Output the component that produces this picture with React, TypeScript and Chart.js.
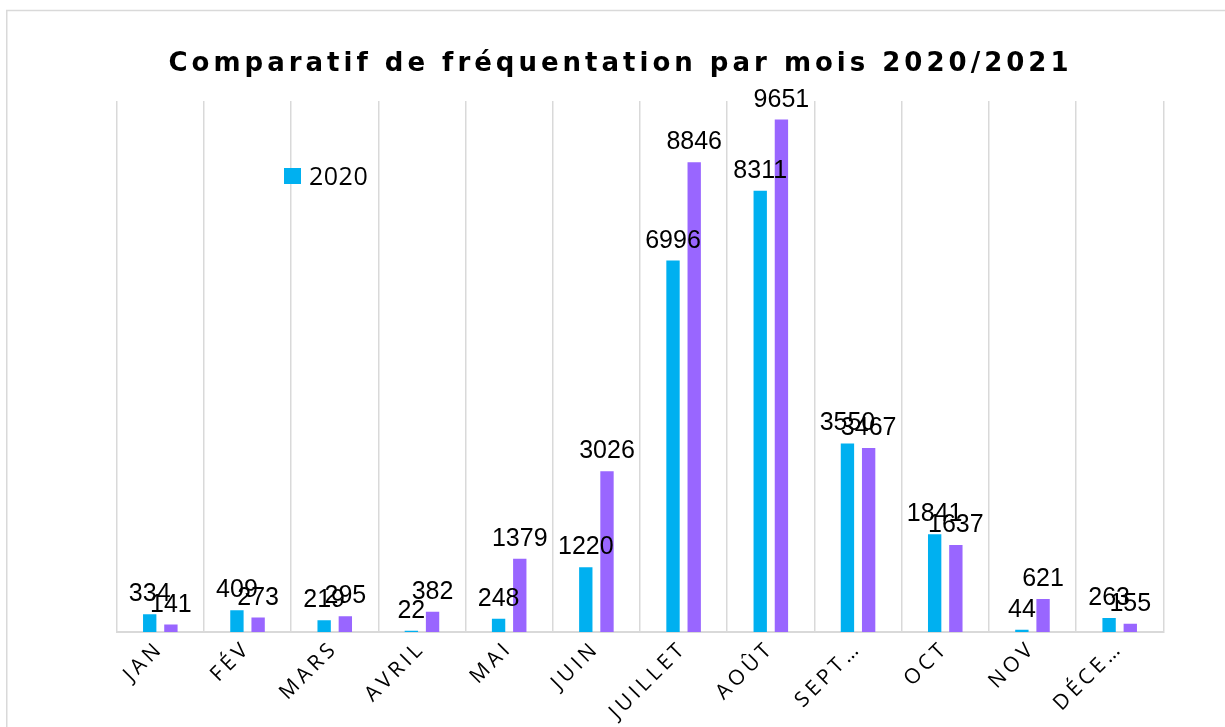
import React, { useEffect, useRef } from "react";
import { Chart, registerables } from "chart.js";

Chart.register(...registerables);

const months = ["JAN", "FÉV", "MARS", "AVRIL", "MAI", "JUIN", "JUILLET", "AOÛT", "SEPT…", "OCT", "NOV", "DÉCE…"];
const visits2020 = [334, 409, 219, 22, 248, 1220, 6996, 8311, 3550, 1841, 44, 263];
const visits2021 = [141, 273, 295, 382, 1379, 3026, 8846, 9651, 3467, 1637, 621, 155];
const seriesNames = ["2020", "2021"];
const yMax = 10000;
const chartTitle = "Comparatif de fréquentation par mois 2020/2021";

const COLOR_2020 = "#00B0F0";
const COLOR_2021 = "#9966FF";
const GRID = "#d9d9d9";
const UI_FONT = '"Open Sans", "Noto Sans", sans-serif';
const TITLE_FONT = '"DejaVu Sans", "Open Sans", sans-serif';
const TICK_SPACING = "4px";

const decorPlugin = {
  id: "decor",
  beforeUpdate(chart: any) {
    chart.ctx.letterSpacing = TICK_SPACING;
  },
  beforeDraw(chart: any) {
    const ctx = chart.ctx;
    ctx.save();
    ctx.strokeStyle = GRID;
    ctx.lineWidth = 1.5;
    ctx.strokeRect(6.75, 10.5, 1400, 900);
    ctx.restore();
    ctx.letterSpacing = TICK_SPACING;
  },
  afterDatasetsDraw(chart: any) {
    const ctx = chart.ctx;
    ctx.save();
    ctx.letterSpacing = "0px";
    ctx.font = '25px "Liberation Sans", Arial, sans-serif';
    ctx.fillStyle = "#000";
    ctx.textAlign = "center";
    ctx.textBaseline = "alphabetic";
    chart.data.datasets.forEach((ds: any, di: number) => {
      const meta = chart.getDatasetMeta(di);
      meta.data.forEach((bar: any, i: number) => {
        ctx.fillText(String(ds.data[i]), bar.x, bar.y - 13);
      });
    });
    ctx.restore();
  },
  afterDraw(chart: any) {
    const ctx = chart.ctx;
    // title
    ctx.save();
    ctx.font = "bold 26px " + TITLE_FONT;
    ctx.fillStyle = "#000";
    ctx.textBaseline = "alphabetic";
    ctx.textAlign = "left";
    ctx.letterSpacing = "0px";
    const w0 = ctx.measureText(chartTitle).width;
    const targetW = 900;
    const n = chartTitle.length;
    const ls = Math.max(0, (targetW - w0) / (n - 1));
    ctx.letterSpacing = ls + "px";
    const cx = 618.5;
    ctx.fillText(chartTitle, cx - targetW / 2, 71);
    ctx.restore();

    // legend (only first series shown, as in reference)
    ctx.save();
    ctx.letterSpacing = "0.5px";
    ctx.fillStyle = COLOR_2020;
    ctx.fillRect(284, 168, 17, 16);
    ctx.fillStyle = "#000";
    ctx.font = "25px " + UI_FONT;
    ctx.textAlign = "left";
    ctx.textBaseline = "alphabetic";
    ctx.fillText(seriesNames[0], 309, 185);
    ctx.restore();
  },
};

export default function App() {
  const canvasRef = useRef<HTMLCanvasElement | null>(null);

  useEffect(() => {
    const canvas = canvasRef.current;
    if (!canvas) return;
    const chart = new Chart(canvas, {
      type: "bar",
      data: {
        labels: months,
        datasets: [
          {
            label: seriesNames[0],
            data: visits2020,
            backgroundColor: COLOR_2020,
            categoryPercentage: 0.486,
            barPercentage: 0.63,
          },
          {
            label: seriesNames[1],
            data: visits2021,
            backgroundColor: COLOR_2021,
            categoryPercentage: 0.486,
            barPercentage: 0.63,
          },
        ],
      },
      options: {
        responsive: false,
        animation: false,
        layout: { padding: { left: 116.7, right: 61.7, top: 101, bottom: 0 } },
        plugins: {
          legend: { display: false },
          title: { display: false },
          tooltip: { enabled: false },
        },
        scales: {
          x: {
            offset: true,
            grid: { offset: true, color: GRID, lineWidth: 1.5, drawTicks: false },
            border: { display: true, color: GRID, width: 2 },
            ticks: {
              autoSkip: false,
              minRotation: 45,
              maxRotation: 45,
              padding: 4,
              color: "#000",
              font: { family: UI_FONT, size: 21 },
            },
            afterFit(scale: any) {
              scale.height = 95;
            },
          },
          y: {
            display: false,
            min: 0,
            max: yMax,
          },
        },
      },
      plugins: [decorPlugin],
    });
    return () => chart.destroy();
  }, []);

  return (
    <div style={{ position: "fixed", left: 0, top: 0, width: 1225, height: 727, background: "#fff" }}>
      <canvas ref={canvasRef} width={1225} height={727} style={{ display: "block" }} />
    </div>
  );
}
